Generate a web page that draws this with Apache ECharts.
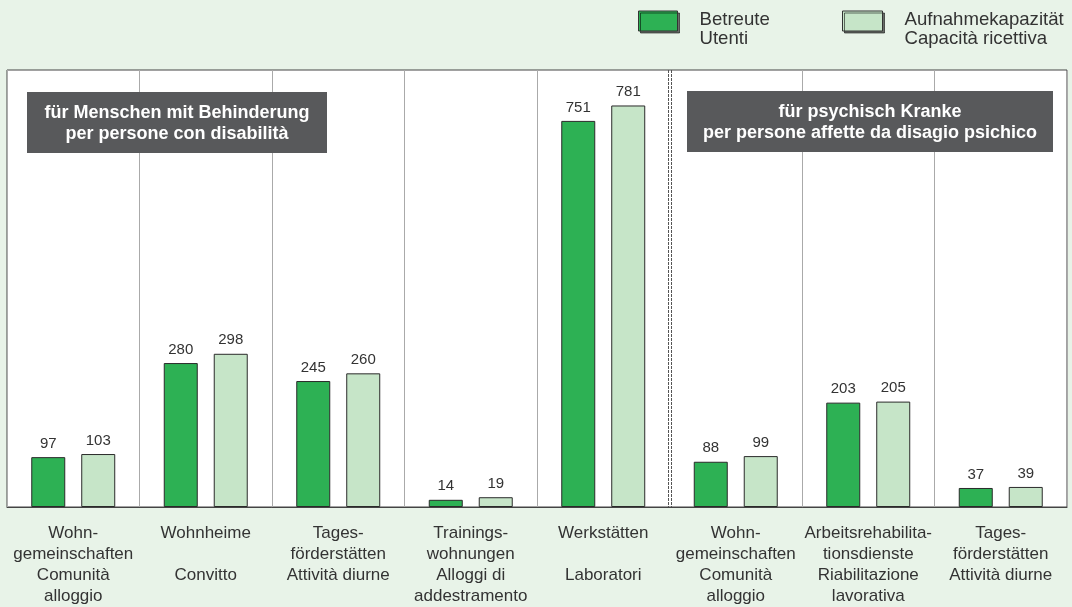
<!DOCTYPE html>
<html>
<head>
<meta charset="utf-8">
<script src="https://cdn.jsdelivr.net/npm/echarts@6/dist/echarts.min.js"></script>
<style>
html,body{margin:0;padding:0;background:#e8f3e8;}
#chart{width:1072px;height:607px;}
</style>
</head>
<body>
<div id="chart"></div>
<script>
var categories = [
  'Wohn-\ngemeinschaften\nComunità\nalloggio',
  'Wohnheime\n\nConvitto',
  'Tages-\nförderstätten\nAttività diurne',
  'Trainings-\nwohnungen\nAlloggi di\naddestramento',
  'Werkstätten\n\nLaboratori',
  'Wohn-\ngemeinschaften\nComunità\nalloggio',
  'Arbeitsrehabilita-\ntionsdienste\nRiabilitazione\nlavorativa',
  'Tages-\nförderstätten\nAttività diurne'
];
var seriesNames = ['Betreute\nUtenti', 'Aufnahmekapazität\nCapacità ricettiva'];
var betreute = [97, 280, 245, 14, 751, 88, 203, 37];
var kapazitaet = [103, 298, 260, 19, 781, 99, 205, 39];
var groupLabels = ['für Menschen mit Behinderung\nper persone con disabilità', 'für psychisch Kranke\nper persone affette da disagio psichico'];
var dividerIndex = 5;

var FONT = 'Arial';
var chart = echarts.init(document.getElementById('chart'), null, {renderer: 'canvas'});

var labelStyle = {show: true, position: 'top', distance: 6, color: '#333', fontSize: 15, fontFamily: FONT};
var legendText = {
  fontSize: 18.6, color: '#333', fontFamily: FONT, lineHeight: 19, padding: [0, 0, 0, 17],
  rich: {p: {fontSize: 8, lineHeight: 16}}
};
var legendItem = {borderColor: '#333', borderWidth: 1, shadowColor: 'rgba(0,0,0,0.55)', shadowOffsetX: 2, shadowOffsetY: 2, shadowBlur: 0};
var legendFormatter = function (name) { return '{p| }\n' + name; };

var option = {
  backgroundColor: '#e8f3e8',
  animation: false,
  textStyle: {fontFamily: FONT},
  legend: [
    {
      data: [seriesNames[0]], left: 638, top: -6, padding: 0, itemWidth: 39, itemHeight: 20,
      icon: 'rect', selectedMode: false, itemStyle: legendItem, textStyle: legendText, formatter: legendFormatter
    },
    {
      data: [seriesNames[1]], left: 842, top: -6, padding: 0, itemWidth: 40, itemHeight: 20,
      icon: 'rect', selectedMode: false, itemStyle: legendItem, textStyle: legendText, formatter: legendFormatter
    }
  ],
  grid: {
    left: 7, right: 5, top: 70, bottom: 100, show: true, backgroundColor: '#ffffff',
    borderColor: '#444', borderWidth: 1, containLabel: false, outerBoundsMode: 'none'
  },
  xAxis: {
    type: 'category',
    data: categories,
    boundaryGap: true,
    axisLine: {show: true, lineStyle: {color: '#444', width: 1}},
    axisTick: {show: false},
    axisLabel: {interval: 0, color: '#333', fontSize: 17, lineHeight: 21, margin: 16, fontFamily: FONT, align: 'center'},
    splitLine: {
      show: true,
      interval: function (idx) { return idx !== dividerIndex; },
      lineStyle: {color: '#aaa', width: 1}
    }
  },
  yAxis: {
    type: 'value', min: 0, max: 850, show: false, splitLine: {show: false}
  },
  series: [
    {
      name: seriesNames[0], type: 'bar', data: betreute, barWidth: 34, barGap: '47%',
      itemStyle: {color: '#2db154', borderColor: '#2a2a2a', borderWidth: 1},
      label: labelStyle
    },
    {
      name: seriesNames[1], type: 'bar', data: kapazitaet, barWidth: 34,
      itemStyle: {color: '#c6e5c8', borderColor: '#2a2a2a', borderWidth: 1},
      label: labelStyle
    }
  ]
};
chart.setOption(option);

var x4 = chart.convertToPixel({xAxisIndex: 0}, dividerIndex - 1);
var x5 = chart.convertToPixel({xAxisIndex: 0}, dividerIndex);
var xd = Math.round((x4 + x5) / 2);
var yTop = chart.convertToPixel({yAxisIndex: 0}, 850);
var yBot = chart.convertToPixel({yAxisIndex: 0}, 0);

function box(x, y, w, h, text) {
  return {
    type: 'group', left: x, top: y, z: 100,
    children: [
      {type: 'rect', shape: {x: 0, y: 0, width: w, height: h}, style: {fill: '#58595b'}},
      {type: 'text', x: w / 2, y: h / 2 + 1, style: {text: text, fill: '#fff', fontFamily: FONT, fontWeight: 'bold', fontSize: 18, lineHeight: 21, align: 'center', verticalAlign: 'middle'}}
    ]
  };
}

chart.setOption({
  graphic: [
    {type: 'line', shape: {x1: xd - 1.5, y1: yTop, x2: xd - 1.5, y2: yBot}, style: {stroke: '#555', lineWidth: 1, lineDash: [3, 1]}, z: 50},
    {type: 'line', shape: {x1: xd + 1.5, y1: yTop, x2: xd + 1.5, y2: yBot}, style: {stroke: '#555', lineWidth: 1, lineDash: [3, 1]}, z: 50},
    box(27, 92, 300, 61, groupLabels[0]),
    box(687, 91, 366, 61, groupLabels[1])
  ]
});
</script>
</body>
</html>
